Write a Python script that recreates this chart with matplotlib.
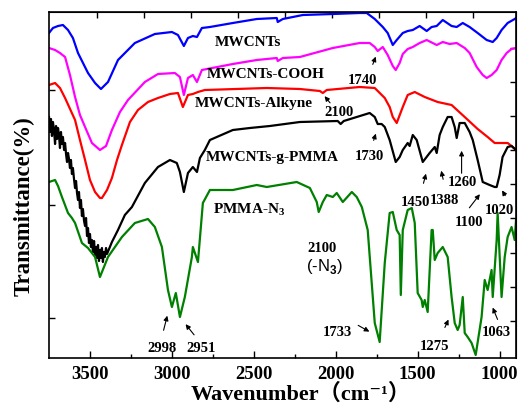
import matplotlib
matplotlib.use("Agg")
import matplotlib.pyplot as plt

plt.rcParams['font.family'] = 'Liberation Serif'
plt.rcParams['font.weight'] = 'bold'
plt.rcParams['mathtext.fontset'] = 'custom'
plt.rcParams['mathtext.rm'] = 'Liberation Serif:bold'
plt.rcParams['mathtext.sf'] = 'Liberation Sans'

# spectra (wavenumber, transmittance in arbitrary offset units)
wn_blue = [3750, 3726, 3695, 3665, 3634, 3604, 3573, 3512, 3469, 3433, 3390, 3329, 3226, 3104, 3000,
           2963, 2927, 2902, 2872, 2847, 2817, 2768, 2628, 2482, 2360, 2354, 2323, 2201, 2018, 1854,
           1811, 1762, 1713, 1683, 1652, 1628, 1591, 1561, 1530, 1488, 1445, 1415, 1384, 1347, 1293,
           1262, 1225, 1183, 1134, 1079, 1042, 1018, 988, 951, 908, 900]
t_blue = [325, 330, 332, 333, 328, 320, 305, 285, 275, 269, 276, 298, 315, 324, 326,
          323, 312, 320, 322, 321, 330, 331, 335, 339, 340, 336, 339, 343, 344, 345,
          345, 339, 331, 325, 313, 318, 325, 327, 328, 332, 327, 331, 332, 338, 332,
          331, 335, 331, 325, 318, 316, 320, 328, 335, 339, 340]

wn_mag = [3750, 3713, 3683, 3652, 3622, 3591, 3561, 3530, 3488, 3439, 3402, 3366, 3317, 3268, 3165,
          3085, 2982, 2951, 2927, 2902, 2872, 2847, 2817, 2628, 2482, 2360, 2354, 2323, 2219, 2018,
          1854, 1793, 1762, 1744, 1713, 1683, 1652, 1634, 1610, 1591, 1561, 1530, 1488, 1445, 1384,
          1347, 1305, 1262, 1213, 1183, 1140, 1103, 1079, 1049, 1018, 988, 957, 927, 900]
t_mag = [310, 308, 305, 301, 283, 261, 243, 231, 215, 208, 212, 228, 246, 258, 276,
         284, 285, 281, 263, 280, 283, 276, 288, 294, 298, 300, 297, 300, 301, 310,
         315, 315, 311, 307, 311, 303, 292, 288, 295, 304, 309, 311, 315, 318, 313,
         316, 314, 315, 310, 305, 291, 283, 280, 283, 288, 298, 305, 309, 310]

wn_red = [3750, 3713, 3683, 3652, 3591, 3561, 3530, 3500, 3469, 3439, 3427, 3396, 3366, 3335, 3305,
          3256, 3207, 3146, 3085, 3012, 2963, 2933, 2902, 2872, 2841, 2799, 2421, 2219, 2097, 2079,
          2055, 1854, 1762, 1701, 1671, 1652, 1628, 1591, 1561, 1518, 1457, 1378, 1293, 1213, 1134,
          1073, 1030, 988, 951, 927, 900]
t_red = [273, 275, 270, 260, 238, 218, 198, 178, 166, 160, 160, 168, 180, 198, 213,
         236, 248, 256, 260, 264, 265, 251, 263, 264, 266, 268, 270, 269, 267, 265,
         268, 271, 270, 260, 251, 241, 235, 251, 263, 266, 261, 256, 253, 241, 229,
         221, 215, 215, 215, 212, 208]

wn_blk = [3750, 3744, 3738, 3732, 3726, 3720, 3713, 3707, 3701, 3695, 3689, 3683, 3677, 3671, 3665,
          3658, 3652, 3646, 3640, 3634, 3628, 3622, 3616, 3610, 3604, 3598, 3591, 3585, 3579, 3573,
          3567, 3561, 3555, 3549, 3543, 3536, 3530, 3524, 3518, 3512, 3506, 3500, 3494, 3488, 3482,
          3475, 3469, 3463, 3457, 3451, 3445, 3439, 3433, 3427, 3421, 3415, 3409, 3402, 3396, 3366,
          3329, 3287, 3244, 3165, 3085, 3012, 2970, 2951, 2927, 2902, 2872, 2847, 2829, 2799, 2768,
          2628, 2524, 2402, 2219, 1988, 1970, 1951, 1793, 1762, 1744, 1720, 1701, 1671, 1634, 1610,
          1591, 1561, 1549, 1530, 1506, 1469, 1427, 1396, 1384, 1366, 1347, 1317, 1293, 1274, 1262,
          1244, 1213, 1183, 1164, 1134, 1103, 1061, 1030, 1018, 1000, 982, 951, 927, 900]
t_blk = [241, 226, 239, 222, 236, 229, 214, 232, 219, 230, 223, 210, 226, 214, 221,
         208, 215, 204, 196, 205, 199, 190, 198, 184, 190, 180, 170, 177, 165, 158,
         166, 150, 158, 142, 149, 137, 132, 140, 122, 130, 115, 124, 111, 118, 106,
         117, 103, 111, 100, 113, 97, 108, 100, 110, 96, 106, 101, 110, 104, 116,
         128, 143, 151, 175, 191, 198, 195, 186, 166, 185, 191, 186, 200, 208, 218,
         228, 230, 232, 236, 237, 234, 237, 245, 241, 234, 234, 231, 218, 196, 201,
         208, 215, 212, 223, 218, 196, 205, 211, 205, 223, 231, 241, 241, 231, 220,
         235, 235, 226, 218, 198, 176, 173, 171, 171, 183, 201, 211, 212, 208]

wn_grn = [3750, 3713, 3695, 3671, 3634, 3610, 3591, 3549, 3512, 3469, 3439, 3390, 3305, 3226, 3146,
          3104, 3061, 3024, 3000, 2976, 2951, 2921, 2878, 2872, 2841, 2811, 2768, 2628, 2482, 2421,
          2238, 2158, 2116, 2104, 2079, 2055, 2018, 1994, 1957, 1902, 1872, 1841, 1805, 1762, 1732,
          1701, 1671, 1652, 1628, 1610, 1603, 1591, 1561, 1536, 1518, 1500, 1476, 1469, 1457, 1439,
          1415, 1408, 1396, 1378, 1347, 1317, 1293, 1274, 1256, 1244, 1225, 1213, 1195, 1171, 1146,
          1110, 1091, 1073, 1049, 1042, 1018, 1012, 988, 969, 951, 927, 908, 900]
t_grn = [176, 178, 172, 161, 145, 140, 135, 115, 110, 101, 81, 101, 121, 135, 139,
         131, 111, 68, 51, 65, 41, 61, 101, 111, 96, 155, 168, 168, 173, 171,
         176, 170, 156, 146, 156, 163, 161, 165, 156, 166, 161, 151, 128, 35, 16,
         95, 145, 146, 128, 123, 63, 128, 148, 150, 135, 65, 58, 51, 58, 46,
         128, 128, 98, 105, 111, 101, 61, 35, 28, 33, 61, 25, 21, 15, 3,
         41, 78, 68, 88, 61, 118, 145, 61, 101, 121, 131, 118, 138]

names = ['MWCNTs', 'MWCNTs-COOH', 'MWCNTs-Alkyne', 'MWCNTs-g-PMMA', 'PMMA-N$_3$']
name_xy = [(2536, 316), (2427, 283), (2500, 255), (2390, 200), (2530, 148)]

# peak labels: text, text position, arrow tail, arrow tip
peaks = ['1740', '2100', '1730', '1450', '1388', '1260', '1100', '1020',
         '2998', '2951', '1733', '1275', '1063']
peak_text = [(1835, 278), (1982, 245), (1793, 201), (1512, 155), (1335, 158), (1225, 175),
             (1189, 135), (1000, 148), (3061, 10), (2823, 10), (1988, 26), (1396, 11), (1018, 26)]
peak_tail = [(1780, 291), (2024, 253), (1774, 215), (1469, 172), (1341, 176), (1232, 182),
             (1195, 148), (957, 160), (3055, 25), (2854, 21), (1878, 34), (1341, 28), (1006, 36)]
peak_tip = [(1750, 304), (2079, 264), (1750, 227), (1445, 187), (1360, 190), (1232, 210),
            (1110, 166), (994, 170), (3024, 45), (2927, 36), (1780, 25), (1305, 41), (1049, 53)]

fig = plt.figure(figsize=(5.18, 4.12), dpi=100)
ax = fig.add_axes([49/518, 54/412, 467/518, 346/412])

lw = 1.6
ax.plot(wn_blue, t_blue, color='#0000ff', lw=lw)
ax.plot(wn_mag, t_mag, color='#ff00ff', lw=lw)
ax.plot(wn_red, t_red, color='#ff0000', lw=lw)
ax.plot(wn_blk, t_blk, color='black', lw=lw)
ax.plot(wn_grn, t_grn, color='#008000', lw=lw)

for n, (x, y) in zip(names, name_xy):
    ax.text(x, y, n, fontsize=11, fontweight='bold', ha='center', va='center')

for p, tp, tl, tip in zip(peaks, peak_text, peak_tail, peak_tip):
    ax.text(tp[0], tp[1], p, fontsize=10.5, fontweight='bold', ha='center', va='center')
    ax.annotate('', xy=tip, xytext=tl,
                arrowprops=dict(arrowstyle='-|>', color='black', lw=0.8, mutation_scale=7))

ax.text(2085, 110, '2100', fontsize=10.5, fontweight='bold', ha='center', va='center')
ax.text(2067, 92, r'(-N$_\mathsf{3}$)', fontsize=12, fontweight='normal',
        family='Liberation Sans', ha='center', va='center')

ax.set_xlim(3750, 900)
ax.set_ylim(0, 346)
ax.set_xticks([3500, 3000, 2500, 2000, 1500, 1000])
ax.set_xticks([3250, 2750, 2250, 1750, 1250], minor=True)
ax.set_yticks([40, 153, 268])
ax.set_yticklabels([])
ax.tick_params(axis='x', which='major', direction='in', length=5, width=1, labelsize=13.5, pad=6)
ax.tick_params(axis='x', which='minor', direction='in', length=3, width=1)
ax.tick_params(axis='y', direction='in', length=4, width=1)
for lab in ax.get_xticklabels():
    lab.set_fontweight('bold')
for s in ax.spines.values():
    s.set_linewidth(1.2)

# unlabeled ticks on the top and right frame
top = ax.secondary_xaxis('top')
top.set_xticks([3457, 3170, 2884, 2597, 2310, 2024, 1737, 1451, 1164])
top.set_xticklabels([])
top.tick_params(direction='in', length=4, width=1)
right = ax.secondary_yaxis('right')
right.set_yticks([37, 71, 105, 140, 174, 208, 242, 276, 310])
right.set_yticklabels([])
right.tick_params(direction='in', length=4, width=1)

ax.set_xlabel('Wavenumber（cm⁻¹）', fontsize=16, fontweight='bold',
              family=['Liberation Serif', 'DejaVu Serif', 'Noto Sans CJK SC'])
ax.xaxis.set_label_coords(0.54, -0.075, transform=ax.transAxes)
ax.set_ylabel('Transmittance(%)', fontsize=16.5, fontweight='bold')
ax.yaxis.set_label_coords(-0.03, 0.44, transform=ax.transAxes)

fig.savefig('out.png', dpi=100)
